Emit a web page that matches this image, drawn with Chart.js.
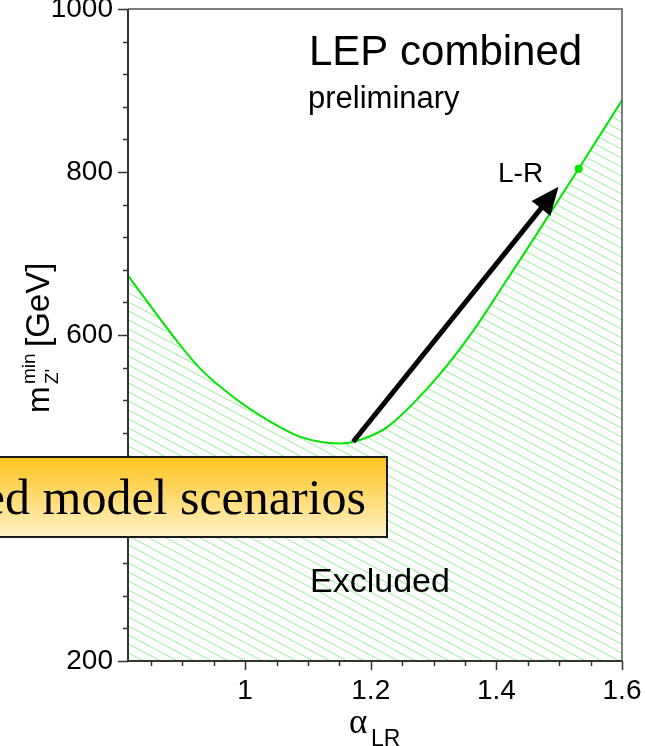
<!DOCTYPE html>
<html>
<head>
<meta charset="utf-8">
<script src="https://cdn.jsdelivr.net/npm/chart.js@4.4.1/dist/chart.umd.min.js"></script>
<style>
  html, body { margin: 0; padding: 0; background: #fff; overflow: hidden; }
  #wrap { position: relative; width: 645px; height: 746px; }
</style>
</head>
<body>
<div id="wrap"><canvas id="limit" width="645" height="746"></canvas></div>
<script>
// Z' mass lower limit versus alpha_LR, left-right symmetric model
const alphaLR   = [0.8135, 0.888, 0.928, 0.981, 1.035, 1.088, 1.151, 1.173, 1.226, 1.300, 1.364, 1.411, 1.446, 1.531, 1.600];
const massLimit = [673,    596,   559,   524,   496,   475,   467,   469,   487,   543,   606,   661,   702,   804,   888];

// the L-R model point on the limit curve
const lrAlpha = [1.531];
const lrMass  = [804];

const xTicks = [1, 1.2, 1.4, 1.6];
const xTickLabels = ['1', '1.2', '1.4', '1.6'];
const yTicks = [200, 400, 600, 800, 1000];
const yTickLabels = ['200', '400', '600', '800', '1000'];

const X_MIN = 0.8135, X_MAX = 1.6, Y_MIN = 200, Y_MAX = 1000;
const X_MINOR = 0.05, Y_MINOR = 40;

// arrow pointing from the curve minimum to the L-R point (data units)
const arrowFrom = [1.172, 469];
const arrowTo   = [1.499, 782];

const GREEN = 'rgb(0, 230, 0)';
const SANS = '"Liberation Sans", Arial, Helvetica, sans-serif';
const SERIF = '"Liberation Serif", "Times New Roman", serif';

function hatchPattern() {
  const w = 17, h = 9;
  const c = document.createElement('canvas');
  c.width = w; c.height = h;
  const g = c.getContext('2d');
  g.strokeStyle = 'rgba(0, 220, 0, 0.42)';
  g.lineWidth = 1;
  for (const off of [-h, 0, h]) {
    g.beginPath();
    g.moveTo(-w, off - h);
    g.lineTo(2 * w, off + 2 * h);
    g.stroke();
  }
  return g.createPattern(c, 'repeat');
}

function noPadding(scale) {
  scale.paddingLeft = 0; scale.paddingRight = 0;
  scale.paddingTop = 0; scale.paddingBottom = 0;
}

function drawArrow(g, x0, y0, x1, y1) {
  const ang = Math.atan2(y1 - y0, x1 - x0);
  const headLen = 28, headHalf = 12;
  const bx = x1 - headLen * Math.cos(ang), by = y1 - headLen * Math.sin(ang);
  g.strokeStyle = '#000';
  g.lineWidth = 5;
  g.beginPath();
  g.moveTo(x0, y0);
  g.lineTo(bx + 2 * Math.cos(ang), by + 2 * Math.sin(ang));
  g.stroke();
  g.fillStyle = '#000';
  g.beginPath();
  g.moveTo(x1, y1);
  g.lineTo(bx + headHalf * Math.sin(ang), by - headHalf * Math.cos(ang));
  g.lineTo(bx - headHalf * Math.sin(ang), by + headHalf * Math.cos(ang));
  g.closePath();
  g.fill();
}

// axes frame, minor ticks, labels and the overlay banner
const decorations = {
  id: 'decorations',
  afterDraw(chart) {
    const g = chart.ctx;
    const { left, right, top, bottom } = chart.chartArea;
    const xs = chart.scales.x, ys = chart.scales.y;
    g.save();

    // frame
    g.strokeStyle = '#555';
    g.lineWidth = 1.5;
    g.beginPath();
    g.moveTo(left, top); g.lineTo(right, top); g.lineTo(right, bottom);
    g.stroke();
    g.strokeStyle = '#333';
    g.lineWidth = 2;
    g.beginPath();
    g.moveTo(left, top); g.lineTo(left, bottom); g.lineTo(right, bottom);
    g.stroke();

    // ticks
    g.lineWidth = 1.5;
    for (let v = Y_MIN; v <= Y_MAX + 1e-6; v += Y_MINOR) {
      const y = Math.round(ys.getPixelForValue(v)) + 0.5;
      const len = yTicks.includes(v) ? 10 : 5;
      g.beginPath(); g.moveTo(left - len, y); g.lineTo(left, y); g.stroke();
    }
    for (let i = Math.ceil(X_MIN / X_MINOR); i * X_MINOR <= X_MAX + 1e-6; i++) {
      const v = +(i * X_MINOR).toFixed(2);
      const x = Math.round(xs.getPixelForValue(v)) + 0.5;
      const len = xTicks.includes(v) ? 9 : 5;
      g.beginPath(); g.moveTo(x, bottom); g.lineTo(x, bottom + len); g.stroke();
    }

    // arrow
    drawArrow(g, xs.getPixelForValue(arrowFrom[0]), ys.getPixelForValue(arrowFrom[1]),
              xs.getPixelForValue(arrowTo[0]), ys.getPixelForValue(arrowTo[1]));

    // text labels
    g.fillStyle = '#000';
    g.textAlign = 'left';
    g.textBaseline = 'alphabetic';
    g.font = '42px ' + SANS;
    g.fillText('LEP combined', 309, 65);
    g.font = '31px ' + SANS;
    g.fillText('preliminary', 308, 108);
    g.font = '28px ' + SANS;
    g.fillText('L-R', 498, 182);
    g.font = '34px ' + SANS;
    g.fillText('Excluded', 310, 592);

    // x title
    g.font = '35px ' + SERIF;
    g.fillText('\u03b1', 349, 733);
    g.font = '23px ' + SANS;
    g.fillText('LR', 371, 746);

    // y title, rotated
    g.save();
    g.translate(49, 413);
    g.rotate(-Math.PI / 2);
    g.font = '32px ' + SANS;
    g.fillText('m', 0, 0);
    g.font = '19px ' + SANS;
    g.fillText('min', 29, -14);
    g.fillText("Z'", 29, 9);
    g.font = '33px ' + SANS;
    g.fillText('[GeV]', 66, 0);
    g.restore();

    // banner
    const bx0 = -6, by0 = 457, bx1 = 387, by1 = 537;
    const grad = g.createLinearGradient(0, by0, 0, by1);
    grad.addColorStop(0, '#fdc31b');
    grad.addColorStop(1, '#fff2c8');
    g.fillStyle = grad;
    g.fillRect(bx0, by0, bx1 - bx0, by1 - by0);
    g.strokeStyle = '#1a1a1a';
    g.lineWidth = 2;
    g.strokeRect(bx0, by0, bx1 - bx0, by1 - by0);
    g.fillStyle = '#000';
    g.textAlign = 'right';
    g.font = '50px ' + SERIF;
    g.fillText('ed model scenarios', 366, 514);

    g.restore();
  }
};

const ctx = document.getElementById('limit');
new Chart(ctx, {
  type: 'line',
  data: {
    datasets: [
      {
        data: alphaLR.map((a, i) => ({ x: a, y: massLimit[i] })),
        borderColor: GREEN,
        borderWidth: 2,
        backgroundColor: hatchPattern(),
        fill: 'start',
        pointRadius: 0,
        cubicInterpolationMode: 'monotone'
      },
      {
        type: 'scatter',
        data: lrAlpha.map((a, i) => ({ x: a, y: lrMass[i] })),
        pointRadius: 4,
        pointBackgroundColor: GREEN,
        pointBorderWidth: 0,
        showLine: false
      }
    ]
  },
  options: {
    responsive: false,
    animation: false,
    devicePixelRatio: 1,
    layout: { padding: { top: 9, right: 23, left: 0, bottom: 0 } },
    plugins: { legend: { display: false }, tooltip: { enabled: false } },
    scales: {
      x: {
        type: 'linear',
        min: X_MIN, max: X_MAX,
        grid: { display: false, drawTicks: false },
        border: { display: false },
        ticks: {
          padding: 13,
          color: '#000',
          maxRotation: 0,
          font: { family: SANS, size: 28 },
          callback: (v, i) => xTickLabels[i]
        },
        afterBuildTicks: s => { s.ticks = xTicks.map(v => ({ value: v })); },
        afterFit: s => { s.height = 85; noPadding(s); }
      },
      y: {
        type: 'linear',
        min: Y_MIN, max: Y_MAX,
        grid: { display: false, drawTicks: false },
        border: { display: false },
        ticks: {
          padding: 15,
          color: '#000',
          font: { family: SANS, size: 28 },
          callback: (v, i) => yTickLabels[i]
        },
        afterBuildTicks: s => { s.ticks = yTicks.map(v => ({ value: v })); },
        afterFit: s => { s.width = 128; noPadding(s); }
      }
    }
  },
  plugins: [decorations]
});
</script>
</body>
</html>
